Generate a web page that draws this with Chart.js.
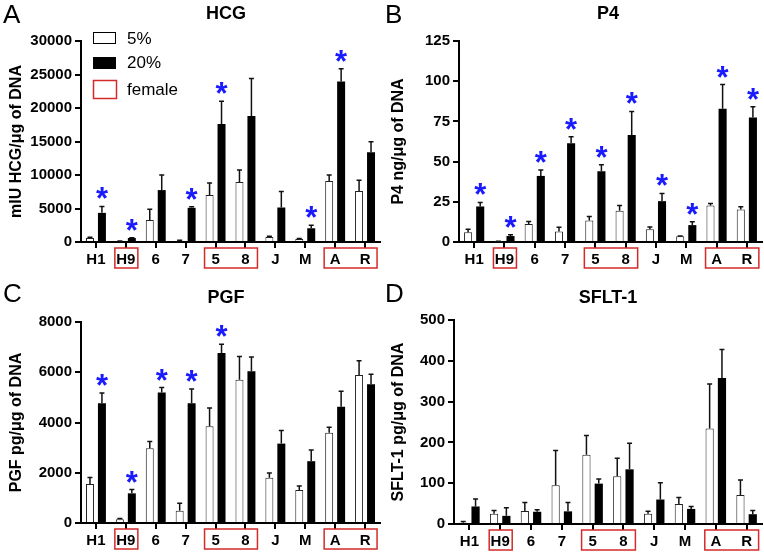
<!DOCTYPE html>
<html>
<head>
<meta charset="utf-8">
<script src="https://cdn.jsdelivr.net/npm/chart.js@4/dist/chart.umd.min.js"></script>
<style>
body { margin: 0; background: #fff; width: 764px; height: 552px; position: relative; overflow: hidden; }
.panel { position: absolute; width: 382px; height: 276px; }
</style>
</head>
<body>
<div class="panel" style="left:0;top:0"><canvas id="hcg" width="382" height="276"></canvas></div>
<div class="panel" style="left:382px;top:0"><canvas id="p4" width="382" height="276"></canvas></div>
<div class="panel" style="left:0;top:276px"><canvas id="pgf" width="382" height="276"></canvas></div>
<div class="panel" style="left:382px;top:276px"><canvas id="sflt" width="382" height="276"></canvas></div>
<script>
const categories = ['H1', 'H9', '6', '7', '5', '8', 'J', 'M', 'A', 'R'];
const seriesLabels = ['5%', '20%'];
const femaleLabel = 'female';
const femaleGroups = [[1, 1], [4, 5], [8, 9]];

const hcg5 = [600, 100, 3300, 200, 7000, 8950, 750, 450, 9100, 7600];
const hcg5Err = [100, 40, 1600, 60, 1800, 1800, 100, 60, 900, 1600];
const hcg20 = [4350, 600, 7750, 5100, 17600, 18800, 5150, 2050, 23950, 13400];
const hcg20Err = [950, 50, 2250, 150, 3400, 5600, 2400, 450, 1900, 1550];
const hcgStars = [1, 1, 0, 1, 1, 0, 0, 1, 1, 0];

const p45 = [6, 0.3, 11.2, 6.6, 13.4, 19.4, 7.9, 3.5, 22.7, 20.2];
const p45Err = [2, 0.1, 1.6, 2.5, 2.5, 3.3, 1.4, 0.3, 1.3, 1.7];
const p420 = [22.1, 3.7, 41.1, 61.4, 44, 66.5, 25.4, 10.5, 82.9, 77.5];
const p420Err = [2.5, 0.8, 3.7, 4.1, 4, 14.7, 4.8, 2.1, 15, 6.6];
const p4Stars = [1, 1, 1, 1, 1, 1, 1, 1, 1, 1];

const pgf5 = [1550, 146, 2980, 490, 3850, 5700, 1800, 1310, 3590, 5890];
const pgf5Err = [265, 30, 265, 300, 730, 930, 190, 160, 225, 570];
const pgf20 = [4770, 1180, 5190, 4770, 6770, 6040, 3160, 2460, 4630, 5520];
const pgf20Err = [400, 150, 200, 560, 340, 570, 520, 450, 610, 400];
const pgfStars = [1, 1, 1, 1, 1, 0, 0, 0, 0, 0];

const sflt5 = [3, 25, 32, 95, 170, 117, 25, 49, 234, 71];
const sflt5Err = [3, 8, 21, 85, 47, 44, 6, 16, 109, 37];
const sflt20 = [43, 20, 30, 31, 99, 134, 60, 37, 358, 24];
const sflt20Err = [18, 20, 5, 22, 11, 64, 41, 6, 70, 9];
const sfltStars = [0, 0, 0, 0, 0, 0, 0, 0, 0, 0];

const FONT = '"Liberation Sans", Arial, Helvetica, sans-serif';

// letters, titles, error bars, stars, female boxes, legend
const decor = {
  id: 'decor',
  afterDatasetsDraw(chart, args, opts) {
    const ctx = chart.ctx;
    const y = chart.scales.y, x = chart.scales.x;
    const area = chart.chartArea;
    ctx.save();

    // error bars (upper only)
    chart.data.datasets.forEach((ds, di) => {
      const meta = chart.getDatasetMeta(di);
      meta.data.forEach((bar, i) => {
        const top = y.getPixelForValue(ds.data[i] + ds.errors[i]);
        ctx.strokeStyle = '#111';
        ctx.lineWidth = 1.5;
        ctx.beginPath();
        ctx.moveTo(bar.x, bar.y);
        ctx.lineTo(bar.x, top);
        ctx.moveTo(bar.x - 2.5, top);
        ctx.lineTo(bar.x + 2.5, top);
        ctx.stroke();
      });
    });

    // significance stars above the 20% bars
    const hi = chart.data.datasets[1];
    const meta1 = chart.getDatasetMeta(1);
    ctx.fillStyle = '#1a1aff';
    ctx.font = 'bold 31px ' + FONT;
    ctx.textAlign = 'center';
    const m = ctx.measureText('*');
    opts.stars.forEach((s, i) => {
      if (!s) return;
      const top = y.getPixelForValue(hi.data[i] + hi.errors[i]);
      const cy = top - 13;
      const base = cy + (m.actualBoundingBoxAscent - m.actualBoundingBoxDescent) / 2;
      ctx.textBaseline = 'alphabetic';
      ctx.fillText('*', meta1.data[i].x, base);
    });

    // female boxes under the category labels
    ctx.strokeStyle = '#d42a2a';
    ctx.lineWidth = 1.5;
    femaleGroups.forEach(([a, b]) => {
      const l = x.getPixelForValue(a) - 11;
      const r = x.getPixelForValue(b) + 12;
      ctx.strokeRect(l, area.bottom + 6, r - l, 20);
    });

    // panel letter and title
    ctx.fillStyle = '#000';
    ctx.textAlign = 'left';
    ctx.textBaseline = 'alphabetic';
    ctx.font = '26px ' + FONT;
    ctx.fillText(opts.letter, 3, opts.letterY);
    ctx.textAlign = 'center';
    ctx.textBaseline = 'middle';
    ctx.font = 'bold 18px ' + FONT;
    ctx.fillText(opts.title, 226, opts.titleY);

    // legend (panel A only)
    if (opts.legend) {
      ctx.textAlign = 'left';
      ctx.font = '17px ' + FONT;
      ctx.lineWidth = 1;
      ctx.strokeStyle = '#000';
      ctx.fillStyle = '#fff';
      ctx.fillRect(93.5, 32.5, 22, 11);
      ctx.strokeRect(93.5, 32.5, 22, 11);
      ctx.fillStyle = '#000';
      ctx.fillRect(93, 57, 23, 12);
      ctx.strokeStyle = '#d42a2a';
      ctx.lineWidth = 1.5;
      ctx.strokeRect(93.5, 80.5, 23, 18);
      ctx.fillStyle = '#000';
      ctx.fillText(chart.data.datasets[0].label, 127, 39);
      ctx.fillText(chart.data.datasets[1].label, 127, 63);
      ctx.fillText(femaleLabel, 127, 90);
    }
    ctx.restore();
  }
};

function makeChart(p) {
  const tickFont = { family: FONT, size: 15, weight: 'bold' };
  new Chart(document.getElementById(p.id), {
    type: 'bar',
    data: {
      labels: categories,
      datasets: [
        { label: seriesLabels[0], data: p.low, errors: p.lowErr, backgroundColor: '#fff',
          borderColor: '#222', borderWidth: 1, categoryPercentage: 0.8, barPercentage: 0.667 },
        { label: seriesLabels[1], data: p.high, errors: p.highErr, backgroundColor: '#000',
          borderWidth: 0, categoryPercentage: 0.8, barPercentage: 0.667 }
      ]
    },
    options: {
      responsive: false,
      animation: false,
      layout: { padding: { top: p.top, right: 2, left: 0, bottom: 0 } },
      plugins: {
        legend: { display: false },
        tooltip: { enabled: false },
        decor: { letter: p.letter, title: p.title, stars: p.stars, legend: p.legend,
                 letterY: p.letterY, titleY: p.titleY }
      },
      scales: {
        x: {
          grid: { display: true, drawOnChartArea: false, offset: false, color: '#000', lineWidth: 2, tickLength: 6 },
          border: { color: '#000', width: 2 },
          ticks: { color: '#000', font: tickFont, padding: 3, maxRotation: 0, autoSkip: false },
          afterFit: s => { s.height = 276 - p.bottom; }
        },
        y: {
          min: 0, max: p.max,
          grid: { display: true, drawOnChartArea: false, color: '#000', lineWidth: 2, tickLength: 6 },
          border: { color: '#000', width: 2 },
          ticks: { stepSize: p.step, color: '#000', font: tickFont, padding: 3, callback: v => String(v) },
          title: { display: true, text: p.yTitle, color: '#000', font: { family: FONT, size: 16, weight: 'bold' }, padding: 7 },
          afterFit: s => { s.width = p.left; }
        }
      }
    },
    plugins: [decor]
  });
}

makeChart({ id: 'hcg', letter: 'A', title: 'HCG', yTitle: 'mIU HCG/\u03bcg of DNA', max: 30000, step: 5000,
  low: hcg5, lowErr: hcg5Err, high: hcg20, highErr: hcg20Err, stars: hcgStars, legend: true,
  left: 81, top: 41, bottom: 242, letterY: 23, titleY: 14 });
makeChart({ id: 'p4', letter: 'B', title: 'P4', yTitle: 'P4 ng/\u03bcg of DNA', max: 125, step: 25,
  low: p45, lowErr: p45Err, high: p420, highErr: p420Err, stars: p4Stars, legend: false,
  left: 77, top: 41, bottom: 242, letterY: 23, titleY: 14 });
makeChart({ id: 'pgf', letter: 'C', title: 'PGF', yTitle: 'PGF pg/\u03bcg of DNA', max: 8000, step: 2000,
  low: pgf5, lowErr: pgf5Err, high: pgf20, highErr: pgf20Err, stars: pgfStars, legend: false,
  left: 81, top: 46, bottom: 247, letterY: 26, titleY: 22 });
makeChart({ id: 'sflt', letter: 'D', title: 'SFLT-1', yTitle: 'SFLT-1 pg/\u03bcg of DNA', max: 500, step: 100,
  low: sflt5, lowErr: sflt5Err, high: sflt20, highErr: sflt20Err, stars: sfltStars, legend: false,
  left: 72, top: 44, bottom: 248, letterY: 26, titleY: 22 });
</script>
</body>
</html>
